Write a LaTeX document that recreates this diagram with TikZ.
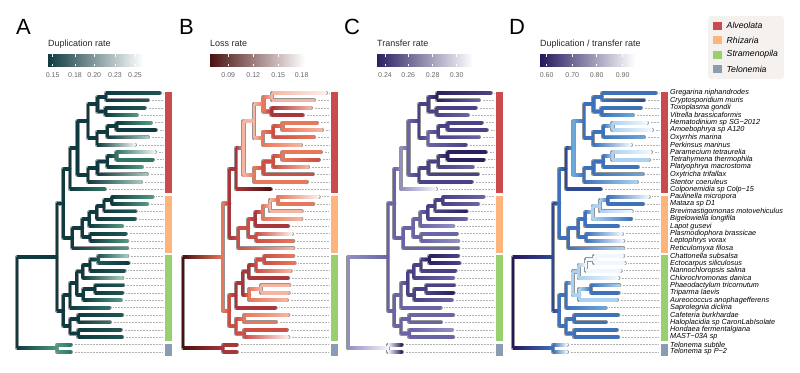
\documentclass[tikz,border=0pt]{standalone}
\usepackage{fontspec}
\setmainfont{Liberation Sans}
\usetikzlibrary{calc}
\definecolor{A0}{HTML}{0F3A40}\definecolor{A1}{HTML}{1D5654}\definecolor{A2}{HTML}{2E7667}
\definecolor{A3}{HTML}{4F9A82}\definecolor{A4}{HTML}{A4CBBD}\definecolor{A5}{HTML}{EEF4F1}
\definecolor{B0}{HTML}{4A1111}\definecolor{B1}{HTML}{A8363A}\definecolor{B2}{HTML}{CC4F45}
\definecolor{B3}{HTML}{E9785B}\definecolor{B4}{HTML}{F5B5A2}\definecolor{B5}{HTML}{FCEFEB}
\definecolor{C0}{HTML}{2B2160}\definecolor{C1}{HTML}{4A4287}\definecolor{C2}{HTML}{6964A6}
\definecolor{C3}{HTML}{928FC3}\definecolor{C4}{HTML}{C5C4E2}\definecolor{C5}{HTML}{F4F4FA}
\definecolor{D0}{HTML}{26185C}\definecolor{D1}{HTML}{2F4995}\definecolor{D2}{HTML}{3D72BB}
\definecolor{D3}{HTML}{6BA7DB}\definecolor{D4}{HTML}{ABD2F0}\definecolor{D5}{HTML}{F1F8FD}
\definecolor{alvc}{HTML}{CB4B4C}\definecolor{rhic}{HTML}{FDB47D}
\definecolor{strc}{HTML}{98D06F}\definecolor{telc}{HTML}{8A9BB2}
\definecolor{legbg}{HTML}{F5F1EE}
\tikzset{
  outl/.style={draw=black!42, line width=4.1pt, line cap=round, line join=round},
  leader/.style={draw=black!30, line width=0.5pt, dash pattern=on 0.6pt off 0.9pt},
  letter/.style={font=\fontsize{22}{22}\selectfont, anchor=base west, inner sep=0pt},
  ltitle/.style={font=\fontsize{9}{9}\selectfont, anchor=base west, inner sep=0pt, text=black!85},
  tick/.style={font=\fontsize{7}{7}\selectfont, anchor=base, inner sep=0pt, text=black!60},
  sp/.style={font=\fontsize{7.3}{7.3}\selectfont\itshape, anchor=west, inner sep=0pt},
  legtxt/.style={font=\fontsize{8.7}{8.7}\selectfont\itshape, anchor=west, inner sep=0pt},
  tickmark/.style={draw=white, line width=0.5pt}
}
\def\nodelist{r/17/302.7, ing/57/257.1, tel/57/348.3, ar/63.3/203.48, alv/70/168.62,
 a13/77.5/148.04, a8/88/121.21, a4/97.5/104.1, a12/106/96.7, a34/105.5/111.5,
 a58/97/138.33, a57/107.3/131.85, a56/116.5/126.3, a913/88/174.86, a912/97.5/167.93,
 a911/107.3/161.45, a910/116.5/155.9, rh/72.3/238.34, r21/82.3/228.28, r19/89.3/219.26,
 r18/96.7/212.33, r17/104/205.85, r16/111.7/200.3, r2021/90/237.3, st/63.3/310.72,
 s30/70/295.34, s29/76.7/283.09, s26/82.7/271.53, s25/90/265.05, s24/98.3/259.5,
 s2729/83.3/294.65, s2728/95/289.1, s3134/70/326.1, s3132/78.3/318.7, s3334/78.3/333.5,
 l1/160/93.0, l2/148/100.4, l3/145/107.8, l4/137/115.2, l5/151/122.6, l6/156/130.0,
 l7/148/137.4, l8/135/144.8, l9/155/152.2, l10/153/159.6, l11/142/167.0, l12/147/174.4,
 l13/141/181.8, l14/105/189.2, l15/152.7/196.6, l16/147.3/204.0, l17/135.7/211.4,
 l18/135.3/218.8, l19/122.3/226.2, l20/126/233.6, l21/127.3/241.0, l22/127.3/248.4,
 l23/127.3/255.8, l24/128.7/263.2, l25/124.7/270.6, l26/122.3/278.0, l27/123.3/285.4,
 l28/122.7/292.8, l29/121/300.2, l30/109.7/307.6, l31/122.3/315.0, l32/110/322.4,
 l33/121/329.8, l34/122.3/337.2, l35/71/344.6, l36/71/352.0}
\def\edgelist{r/ing, r/tel, tel/l35, tel/l36, ing/ar, ing/st, ar/alv, ar/rh, alv/a13, alv/l14,
 a13/a8, a13/a913, a8/a4, a8/a58, a4/a12, a4/a34, a12/l1, a12/l2, a34/l3, a34/l4,
 a58/a57, a58/l8, a57/a56, a57/l7, a56/l5, a56/l6, a913/a912, a913/l13, a912/a911,
 a912/l12, a911/a910, a911/l11, a910/l9, a910/l10, rh/r21, rh/l22, r21/r19, r21/r2021,
 r19/r18, r19/l19, r18/r17, r18/l18, r17/r16, r17/l17, r16/l15, r16/l16, r2021/l20,
 r2021/l21, st/s30, st/s3134, s30/s29, s30/l30, s29/s26, s29/s2729, s26/s25, s26/l26,
 s25/s24, s25/l25, s24/l23, s24/l24, s2729/s2728, s2729/l29, s2728/l27, s2728/l28,
 s3134/s3132, s3134/s3334, s3132/l31, s3132/l32, s3334/l33, s3334/l34}
\newcommand\drawpanel[3]{%
  \foreach \n/\x/\y in \nodelist {\coordinate (#1-\n) at (\x+#2,\y);}
  \coordinate (#1-bar) at (163+#2,0);
  \foreach \n/\l in #3 {\expandafter\xdef\csname lv#1\n\endcsname{\l}}
  \foreach \i in {1,...,36} {\draw[leader] ($(#1-l\i)+(3.5,0)$) -- (#1-l\i -| #1-bar);}
  \foreach \p/\c in \edgelist {\draw[outl] (#1-\p) |- (#1-\c);}
  \foreach \p/\c in \edgelist {%
    \edef\pc{#1\csname lv#1\p\endcsname}\edef\cc{#1\csname lv#1\c\endcsname}%
    \draw[line width=2.8pt, line cap=square, color=\pc] (#1-\p) -- (#1-\p |- #1-\c);
    \shade[left color=\pc, right color=\cc] ($(#1-\p |- #1-\c)+(0,-1.4)$) rectangle ($(#1-\c)+(0,1.4)$);
    \fill[\cc] (#1-\c) circle (1.4);
  }
  \fill[alvc] (165+#2,91.7) rectangle (171.7+#2,193.3);
  \fill[rhic] (165+#2,195.7) rectangle (171.7+#2,252.5);
  \fill[strc] (165+#2,255) rectangle (171.7+#2,341);
  \fill[telc] (165+#2,344) rectangle (171.7+#2,356);
}
\def\levA{r/0, ing/0, tel/3, l35/2, l36/2, ar/0, alv/0, l14/2, a13/0, a8/0, a4/0, a12/0, l1/1, l2/1,
 a34/0, l3/1, l4/3, a58/0, a57/0, a56/0, l5/3, l6/0, l7/4, l8/5, a913/0, a912/0, a911/0, a910/2,
 l9/5, l10/2, l11/3, l12/4, l13/4, rh/0, r21/0, r19/0, r18/0, r17/0, r16/0, l15/3, l16/3, l17/1,
 l18/1, l19/3, r2021/0, l20/1, l21/3, l22/3, st/0, s30/0, s29/0, s26/0, s25/0, s24/1, l23/4,
 l24/0, l25/1, l26/4, s2729/0, s2728/0, l27/1, l28/1, l29/3, l30/2, s3134/0, s3132/0, l31/1,
 l32/2, s3334/0, l33/1, l34/1}
\def\levB{r/0, ing/3, tel/1, l35/1, l36/1, ar/1, alv/1, l14/0, a13/4, a8/4, a4/3, a12/4, l1/5, l2/4,
 a34/1, l3/4, l4/1, a58/3, a57/2, a56/3, l5/3, l6/4, l7/3, l8/4, a913/3, a912/2, a911/2, a910/3,
 l9/3, l10/2, l11/4, l12/2, l13/3, rh/2, r21/2, r19/1, r18/3, r17/4, r16/3, l15/5, l16/3, l17/4,
 l18/4, l19/1, r2021/2, l20/5, l21/3, l22/4, st/2, s30/1, s29/1, s26/1, s25/2, s24/2, l23/3,
 l24/3, l25/4, l26/1, s2729/3, s2728/4, l27/4, l28/4, l29/4, l30/1, s3134/2, s3132/3, l31/4,
 l32/3, s3334/2, l33/2, l34/5}
\def\levC{r/3, ing/2, tel/5, l35/0, l36/0, ar/2, alv/3, l14/5, a13/2, a8/1, a4/1, a12/0, l1/1, l2/2,
 a34/1, l3/1, l4/2, a58/2, a57/1, a56/1, l5/1, l6/1, l7/2, l8/1, a913/1, a912/1, a911/1, a910/0,
 l9/0, l10/0, l11/2, l12/1, l13/1, rh/2, r21/2, r19/2, r18/1, r17/1, r16/1, l15/2, l16/2, l17/0,
 l18/2, l19/3, r2021/2, l20/2, l21/3, l22/2, st/2, s30/2, s29/1, s26/1, s25/1, s24/0, l23/1,
 l24/1, l25/1, l26/2, s2729/1, s2728/1, l27/1, l28/0, l29/2, l30/2, s3134/2, s3132/2, l31/2,
 l32/2, s3334/2, l33/3, l34/2}
\def\levD{r/0, ing/1, tel/2, l35/5, l36/5, ar/2, alv/1, l14/1, a13/3, a8/2, a4/2, a12/2, l1/2, l2/1,
 a34/2, l3/2, l4/3, a58/2, a57/2, a56/4, l5/5, l6/5, l7/3, l8/5, a913/2, a912/2, a911/2, a910/4,
 l9/5, l10/4, l11/2, l12/3, l13/4, rh/2, r21/2, r19/2, r18/4, r17/4, r16/2, l15/5, l16/2, l17/5,
 l18/2, l19/2, r2021/2, l20/5, l21/5, l22/4, st/2, s30/2, s29/4, s26/4, s25/5, s24/5, l23/5,
 l24/5, l25/5, l26/5, s2729/4, s2728/2, l27/4, l28/2, l29/4, l30/3, s3134/2, s3132/2, l31/2,
 l32/2, s3334/2, l33/2, l34/2}
\begin{document}
\begin{tikzpicture}[x=1pt,y=-1pt]
\useasboundingbox (0,0) rectangle (800,372);
% panel letters
\node[letter] (LA) at (16,34) {A};
\node[letter] (LB) at (179,34) {B};
\node[letter] (LC) at (344,34) {C};
\node[letter] (LD) at (509,34) {D};
% colour bars
\node[ltitle] (tA) at (48,46.5) {Duplication rate};
\shade[left color=A0, middle color=A3, right color=white] (48,54) rectangle (143,66);
\foreach \t/\x in {0.15/52.7, 0.18/75, 0.20/94.3, 0.23/115, 0.25/135}{
  \draw[tickmark] (\x,54) -- (\x,56.5); \draw[tickmark] (\x,66) -- (\x,63.5);
  \node[tick] at (\x,77) {\t};}
\node[ltitle] (tB) at (210,46.5) {Loss rate};
\shade[left color=B0, middle color=B3, right color=white] (210,54) rectangle (305,66);
\foreach \t/\x in {0.09/228.3, 0.12/253.3, 0.15/278.3, 0.18/301.7}{
  \draw[tickmark] (\x,54) -- (\x,56.5); \draw[tickmark] (\x,66) -- (\x,63.5);
  \node[tick] at (\x,77) {\t};}
\node[ltitle] (tC) at (377,46.5) {Transfer rate};
\shade[left color=C0, middle color=C3, right color=white] (377,54) rectangle (473,66);
\foreach \t/\x in {0.24/385, 0.26/408.3, 0.28/432.7, 0.30/456.7}{
  \draw[tickmark] (\x,54) -- (\x,56.5); \draw[tickmark] (\x,66) -- (\x,63.5);
  \node[tick] at (\x,77) {\t};}
\node[ltitle] (tD) at (540,46.5) {Duplication / transfer rate};
\shade[left color=D0, middle color=D2, right color=white] (540,54) rectangle (635,66);
\foreach \t/\x in {0.60/546.7, 0.70/572.3, 0.80/596.7, 0.90/622.7}{
  \draw[tickmark] (\x,54) -- (\x,56.5); \draw[tickmark] (\x,66) -- (\x,63.5);
  \node[tick] at (\x,77) {\t};}
% group legend
\fill[legbg, rounded corners=3pt] (708,16) rectangle (784,79);
\fill[alvc] (713.3,21.5) rectangle (721.7,29.5); \node[legtxt] (gA) at (726.5,25.5) {Alveolata};
\fill[rhic] (713.3,36.3) rectangle (721.7,44.3); \node[legtxt] (gR) at (726.5,40.3) {Rhizaria};
\fill[strc] (713.3,50.5) rectangle (721.7,58.5); \node[legtxt] (gS) at (726.5,54.5) {Stramenopila};
\fill[telc] (713.3,65) rectangle (721.7,73); \node[legtxt] (gT) at (726.5,69) {Telonemia};
% trees
\drawpanel{A}{0}{\levA}
\drawpanel{B}{166}{\levB}
\drawpanel{C}{331}{\levC}
\drawpanel{D}{496}{\levD}
% species labels
\coordinate (D-lab) at (670,0);
\foreach \i/\t in {1/Gregarina niphandrodes, 2/Cryptosporidium muris, 3/Toxoplasma gondii,
 4/Vitrella brassicaformis, 5/Hematodinium sp SG−2012, 6/Amoebophrya sp A120, 7/Oxyrrhis marina,
 8/Perkinsus marinus, 9/Paramecium tetraurelia, 10/Tetrahymena thermophila,
 11/Platyophrya macrostoma, 12/Oxytricha trifallax, 13/Stentor coeruleus,
 14/Colponemidia sp Colp−15, 15/Paulinella micropora, 16/Mataza sp D1,
 17/Brevimastigomonas motovehiculus, 18/Bigelowiella longifila, 19/Lapot gusevi,
 20/Plasmodiophora brassicae, 21/Leptophrys vorax, 22/Reticulomyxa filosa,
 23/Chattonella subsalsa, 24/Ectocarpus siliculosus, 25/Nannochloropsis salina,
 26/Chlorochromonas danica, 27/Phaeodactylum tricornutum, 28/Triparma laevis,
 29/Aureococcus anophagefferens, 30/Saprolegnia diclina, 31/Cafeteria burkhardae,
 32/Haloplacidia sp CaronLabIsolate, 33/Hondaea fermentalgiana, 34/MAST−03A sp,
 35/Telonema subtile, 36/Telonema sp P−2}{
  \node[sp] (lab\i) at (D-l\i -| D-lab) {\t};}
\end{tikzpicture}
\end{document}
